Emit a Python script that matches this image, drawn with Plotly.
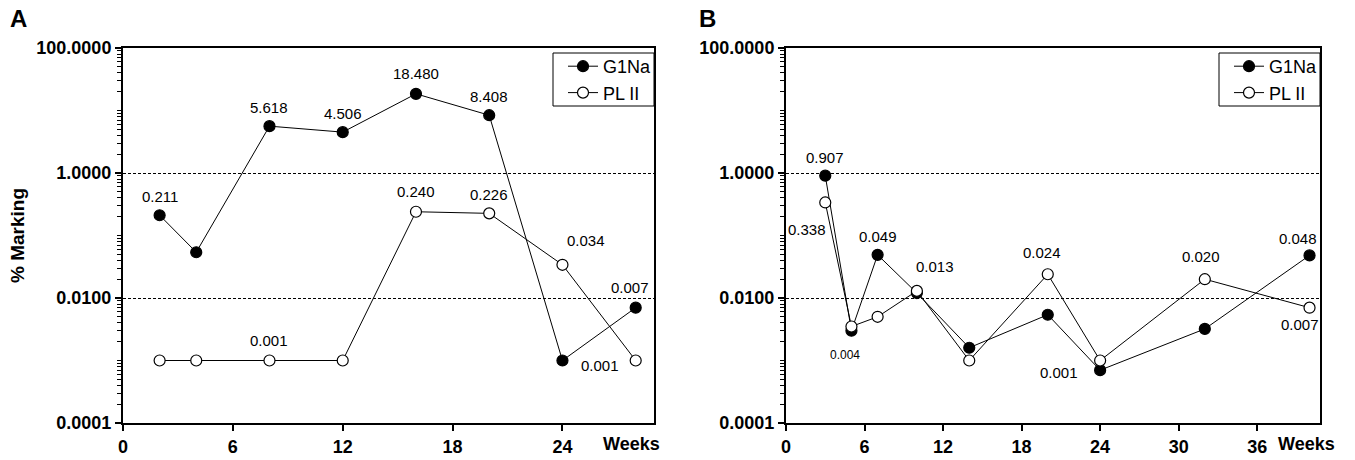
import numpy as np
import plotly.graph_objects as go

# ---------------- data ----------------
weeks_a = [2, 4, 8, 12, 16, 20, 24, 28]
g1na_a = [0.211, 0.054, 5.618, 4.506, 18.480, 8.408, 0.001, 0.007]
plii_a = [0.001, 0.001, 0.001, 0.001, 0.240, 0.226, 0.034, 0.001]
g1na_a_labels = ["0.211", None, "5.618", "4.506", "18.480", "8.408", "0.001", "0.007"]
plii_a_labels = [None, None, "0.001", None, "0.240", "0.226", "0.034", None]

weeks_b = [3, 5, 7, 10, 14, 20, 24, 32, 40]
g1na_b = [0.907, 0.003, 0.049, 0.012, 0.0016, 0.0054, 0.0007, 0.0032, 0.048]
plii_b = [0.338, 0.0035, 0.005, 0.013, 0.001, 0.024, 0.001, 0.020, 0.007]
g1na_b_labels = ["0.907", "0.004", "0.049", None, None, None, "0.001", None, "0.048"]
plii_b_labels = ["0.338", None, None, "0.013", None, "0.024", None, "0.020", "0.007"]

xticks_a = [0, 6, 12, 18, 24]
xticks_b = [0, 6, 12, 18, 24, 30, 36]
yticks = [0.0001, 0.01, 1, 100]
ytick_text = ["0.0001", "0.0100", "1.0000", "100.0000"]

# ---------------- style ----------------
W, H = 1355, 460
FONT = "Liberation Sans, Arial, sans-serif"
# label pixel offsets (dx, dy) per point index
off_g1na_a = {0: (0, -19), 2: (0, -19), 3: (0, -19), 4: (0, -20), 5: (0, -19), 6: (38, 5), 7: (-6, -20)}
off_plii_a = {2: (0, -20), 4: (0, -20), 5: (0, -19), 6: (24, -24)}
off_g1na_b = {0: (0, -18), 1: (-6, 24), 2: (0, -18), 6: (-41, 2), 8: (-12, -17)}
off_plii_b = {0: (-18, 27), 3: (18, -24), 5: (-6, -22), 7: (-4, -23), 8: (-10, 17)}
small_b = {("g", 1)}

def px_x(p):
    return p / W

def px_y(p):
    return 1 - p / H

fig = go.Figure()

def add_series(x, y, name, fill, xa, ya, legend, show):
    fig.add_trace(go.Scatter(
        x=x, y=y, name=name, mode="lines+markers",
        line=dict(color="black", width=1),
        marker=dict(symbol="circle", size=11, color=fill,
                    line=dict(color="black", width=1.2)),
        xaxis=xa, yaxis=ya, legend=legend, showlegend=show))

add_series(weeks_a, g1na_a, "G1Na", "black", "x", "y", "legend", True)
add_series(weeks_a, plii_a, "PL II", "white", "x", "y", "legend", True)
add_series(weeks_b, g1na_b, "G1Na", "black", "x2", "y2", "legend2", True)
add_series(weeks_b, plii_b, "PL II", "white", "x2", "y2", "legend2", True)

annotations = []

def add_labels(xs, ys, labels, offs, xref, yref, tag, smallset=()):
    for i, (xv, yv, lab) in enumerate(zip(xs, ys, labels)):
        if lab is None:
            continue
        dx, dy = offs.get(i, (0, -19))
        size = 12 if (tag, i) in smallset else 15
        annotations.append(dict(
            x=xv, y=np.log10(yv), xref=xref, yref=yref, text=lab,
            showarrow=False, xshift=dx, yshift=-dy,
            xanchor="center", yanchor="middle",
            font=dict(family=FONT, size=size, color="black")))

add_labels(weeks_a, g1na_a, g1na_a_labels, off_g1na_a, "x", "y", "g")
add_labels(weeks_a, plii_a, plii_a_labels, off_plii_a, "x", "y", "p")
add_labels(weeks_b, g1na_b, g1na_b_labels, off_g1na_b, "x2", "y2", "g", small_b)
add_labels(weeks_b, plii_b, plii_b_labels, off_plii_b, "x2", "y2", "p")

bold = dict(family=FONT, size=18, color="black", weight="bold")

def paper_text(xp, yp, text, font, angle=0):
    annotations.append(dict(x=px_x(xp), y=px_y(yp), xref="paper", yref="paper",
                            text=text, showarrow=False, textangle=angle,
                            xanchor="center", yanchor="middle", font=font))

paper_text(631.7, 443.5, "Weeks", bold)
paper_text(1306.7, 443.5, "Weeks", bold)
letter = dict(family=FONT, size=24, color="black", weight="bold")
paper_text(18.5, 18.5, "A", letter)
paper_text(707, 18.5, "B", letter)
paper_text(17, 236, "% Marking", dict(family=FONT, size=19, color="black", weight="bold"), -90)

minor_vals = []
for k in range(-4, 2):
    for m in range(2, 10):
        minor_vals.append(m * 10.0 ** k)
    if k in (-3, -1, 1):
        minor_vals.append(10.0 ** k)

common_y = dict(
    type="log", range=[-4, 2], tickmode="array", tickvals=yticks, ticktext=ytick_text,
    showline=True, linecolor="black", linewidth=2, mirror=True,
    ticks="outside", ticklen=6, tickwidth=1.5, tickcolor="black",
    tickfont=bold, showgrid=True, gridcolor="black", gridwidth=1, griddash="3px,2px",
    zeroline=False, automargin=False,
    minor=dict(tickvals=minor_vals, ticks="outside", ticklen=4, tickwidth=1,
               tickcolor="black", showgrid=False),
)
common_x = dict(
    tickmode="array", showline=True, linecolor="black", linewidth=2, mirror=True,
    ticks="outside", ticklen=6, tickwidth=1.5, tickcolor="black",
    tickfont=bold, showgrid=False, zeroline=False, automargin=False,
)

legend_style = dict(bgcolor="rgba(0,0,0,0)", borderwidth=0,
                    font=dict(family=FONT, size=18, color="black"),
                    xanchor="right", yanchor="top", itemwidth=30,
                    tracegroupgap=0)

# legend frames
shapes = []
for x0, x1 in ((553, 654), (1219, 1320)):
    shapes.append(dict(type="rect", xref="paper", yref="paper",
                       x0=px_x(x0), x1=px_x(x1), y0=px_y(106), y1=px_y(53),
                       line=dict(color="black", width=1), fillcolor="white",
                       layer="above"))

fig.update_layout(
    template="none",
    width=W, height=H, margin=dict(l=0, r=0, t=0, b=0, pad=0),
    paper_bgcolor="white", plot_bgcolor="white",
    xaxis=dict(domain=[px_x(123), px_x(654)], range=[0, 29], tickvals=xticks_a,
               anchor="y", **common_x),
    yaxis=dict(domain=[px_y(423), px_y(48)], anchor="x", **common_y),
    xaxis2=dict(domain=[px_x(786), px_x(1320)], range=[0, 40.8], tickvals=xticks_b,
                anchor="y2", **common_x),
    yaxis2=dict(domain=[px_y(423), px_y(48)], anchor="x2", **common_y),
    legend=dict(x=px_x(657), y=px_y(48), **legend_style),
    legend2=dict(x=px_x(1323), y=px_y(48), **legend_style),
    annotations=annotations,
    shapes=shapes,
    showlegend=True,
)

fig.write_html("out.html", config={"displayModeBar": False},
               post_script="document.body.style.margin='0';document.body.style.overflow='hidden';")
